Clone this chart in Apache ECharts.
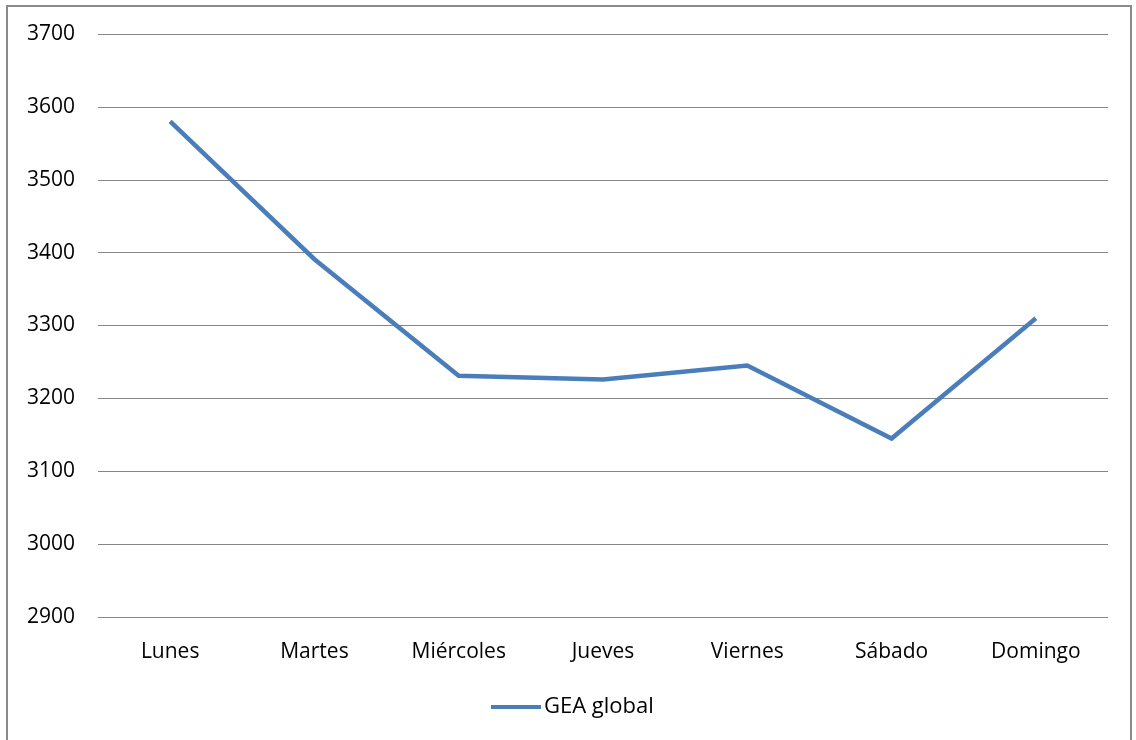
<!DOCTYPE html>
<html style="height: 100%">

<head>
    <meta charset="utf-8">
    <script src="https://cdn.jsdelivr.net/npm/echarts@6/dist/echarts.min.js"></script>
</head>

<body style="height: 100%; margin: 0; overflow: hidden; background: #fff">
<div id="frame" style="position: absolute; left: 6px; top: 5px; width: 1126px; height: 800px; border: 2px solid #8a8a8a; box-sizing: border-box;"></div>
<div id="container" style="position: absolute; left: 0; top: 0; width: 1136px; height: 740px"></div>

<script type="text/javascript">
    // datos
    var dias = ['Lunes', 'Martes', 'Miércoles', 'Jueves', 'Viernes', 'Sábado', 'Domingo'];
    var geaGlobal = [3580, 3391, 3231, 3226, 3245, 3145, 3310];
    var yMin = 2900, yMax = 3700, yPaso = 100;

    var dom = document.getElementById("container");
    var myChart = echarts.init(dom);
    var fuente = '"Open Sans", "Liberation Sans", sans-serif';

    var option = {
        animation: false,
        grid: {
            left: 98,
            right: 28,
            top: 34,
            bottom: 123
        },
        legend: {
            data: ['GEA global'],
            left: 486,
            top: 691,
            itemWidth: 50,
            itemHeight: 4,
            itemGap: 5,
            icon: 'rect',
            textStyle: {
                fontFamily: fuente,
                fontSize: 22,
                color: '#000',
                padding: [0, 0, 0, -2]
            }
        },
        xAxis: {
            type: 'category',
            data: dias,
            boundaryGap: true,
            axisLine: { show: false },
            axisTick: { show: false },
            axisLabel: {
                margin: 25,
                fontFamily: fuente,
                fontSize: 21,
                color: '#000',
                interval: 0
            }
        },
        yAxis: {
            type: 'value',
            min: yMin,
            max: yMax,
            interval: yPaso,
            axisLine: { show: false },
            axisTick: { show: false },
            axisLabel: {
                margin: 23,
                fontFamily: fuente,
                fontSize: 21,
                color: '#000',
                formatter: function (v) { return String(v); }
            },
            splitLine: {
                lineStyle: { color: '#868686', width: 1 }
            }
        },
        series: [
            {
                name: 'GEA global',
                type: 'line',
                data: geaGlobal,
                symbol: 'none',
                itemStyle: { color: '#4a7ebb' },
                lineStyle: { color: '#4a7ebb', width: 4.5, join: 'miter' }
            }
        ]
    };

    myChart.setOption(option, true);
</script>
</body>

</html>
